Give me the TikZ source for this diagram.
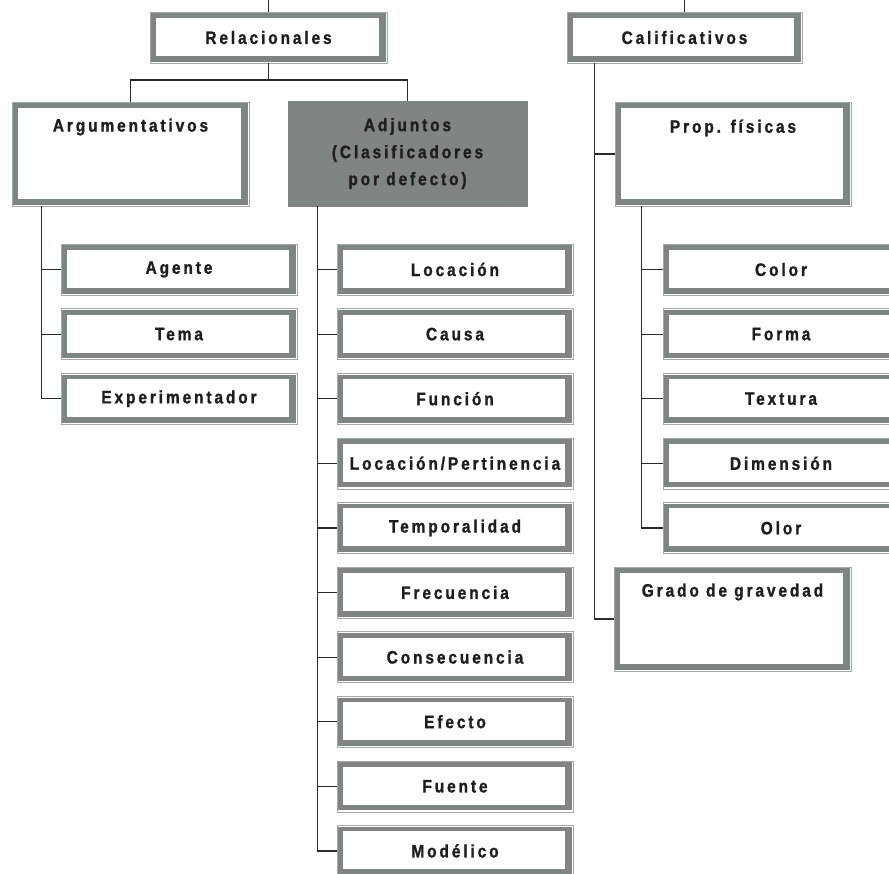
\documentclass[tikz,border=0pt]{standalone}
\usepackage{fontspec}
\newfontfamily\lbl{Liberation Sans Bold}[LetterSpace=16,FakeStretch=0.86,FakeBold=1.2]
\definecolor{boxgray}{HTML}{7F8484}
\definecolor{edgegray}{HTML}{A4A8A8}
\definecolor{txt}{HTML}{1E1E1E}
\definecolor{wire}{HTML}{2A2A2A}
\tikzset{
  lblfont/.style={font=\lbl\fontsize{18}{27}\selectfont, text=txt},
  bx/.style={draw=edgegray, line width=0.6pt, inner sep=0pt,
    minimum width=236pt, minimum height=51pt, lblfont, align=center,
    path picture={
      \fill[boxgray] ([shift={(1.4pt,1.4pt)}]path picture bounding box.south west) rectangle ([shift={(-1.4pt,-1.4pt)}]path picture bounding box.north east);
      \fill[white] ([shift={(6pt,7pt)}]path picture bounding box.south west) rectangle ([shift={(-8pt,-6pt)}]path picture bounding box.north east);
    }},
  tallbx/.style={bx, minimum height=104pt},
  toplbl/.style={lblfont, inner sep=0pt, align=center},
  wirel/.style={draw=wire, line width=1.2pt},
}
\begin{document}
\begin{tikzpicture}[x=1pt,y=-1pt]
\clip (0,0) rectangle (889,873);
\fill[white] (0,0) rectangle (889,873);

% top level
\node[bx, minimum width=237pt] (rel) at (268.5,37.5) {Relacionales};
\node[bx, minimum width=235pt] (cal) at (684.5,37.5) {Calificativos};

% second level
\node[tallbx, minimum width=237pt] (arg) at (130.5,154) {};
\node[toplbl] (argt) at (130.5,127) {Argumentativos};
\node[fill=boxgray, draw=boxgray, minimum width=239pt, minimum height=105pt, inner sep=0pt,
      lblfont, align=center] (adj) at (407.5,153.5)
      {Adjuntos\\(Clasificadores\\por defecto)};
\node[tallbx] (prop) at (733,154) {};
\node[toplbl] (propt) at (733,128) {Prop. físicas};
\node[tallbx, minimum width=237pt] (grado) at (732.5,619) {};
\node[toplbl] (gradot) at (732.5,592) {Grado de gravedad};

% left column
\node[bx] (agente) at (179,269.5) {Agente};
\node[bx] (tema) at (179,334.1) {Tema};
\node[bx] (exper) at (179,398.7) {Experimentador};

% middle column
\node[bx] (loc) at (455,269.5) {Locación};
\node[bx] (causa) at (455,334.1) {Causa};
\node[bx] (func) at (455,398.7) {Función};
\node[bx] (locp) at (455,463.3) {Locación/Pertinencia};
\node[bx] (temp) at (455,527.9) {Temporalidad};
\node[bx] (frec) at (455,592.5) {Frecuencia};
\node[bx] (cons) at (455,657.1) {Consecuencia};
\node[bx] (efec) at (455,721.7) {Efecto};
\node[bx] (fuen) at (455,786.3) {Fuente};
\node[bx] (mode) at (455,850.9) {Modélico};

% right column
\node[bx] (color) at (781,269.5) {Color};
\node[bx] (forma) at (781,334.1) {Forma};
\node[bx] (text) at (781,398.7) {Textura};
\node[bx] (dim) at (781,463.3) {Dimensión};
\node[bx] (olor) at (781,527.9) {Olor};

% connectors
\coordinate (reltop) at (268.5,0);
\coordinate (caltop) at (684.5,0);
\coordinate (j1) at (268.5,80);
\draw[wirel] (reltop) -- (rel.north);
\draw[wirel] (caltop) -- (cal.north);
\draw[wirel] (rel.south) -- (j1);
\draw[wirel] (arg.north) |- (j1) -| (adj.north);

% argumentativos
\coordinate (ta) at ([xshift=30pt]arg.south west);
\draw[wirel] (ta) |- (exper.west);
\draw[wirel] (agente.west) -- (agente.west -| ta);
\draw[wirel] (tema.west) -- (tema.west -| ta);

% adjuntos
\coordinate (tb) at ([xshift=30pt]adj.south west);
\draw[wirel] (tb) |- (mode.west);
\foreach \n in {loc,causa,func,locp,temp,frec,cons,efec,fuen}
  \draw[wirel] (\n.west) -- (\n.west -| tb);

% calificativos
\coordinate (tc) at ([xshift=28pt]cal.south west);
\draw[wirel] (tc) |- (grado.west);
\draw[wirel] (prop.west) -- (prop.west -| tc);

% prop fisicas
\coordinate (td) at ([xshift=27pt]prop.south west);
\draw[wirel] (td) |- (olor.west);
\foreach \n in {color,forma,text,dim}
  \draw[wirel] (\n.west) -- (\n.west -| td);
\end{tikzpicture}
\end{document}
